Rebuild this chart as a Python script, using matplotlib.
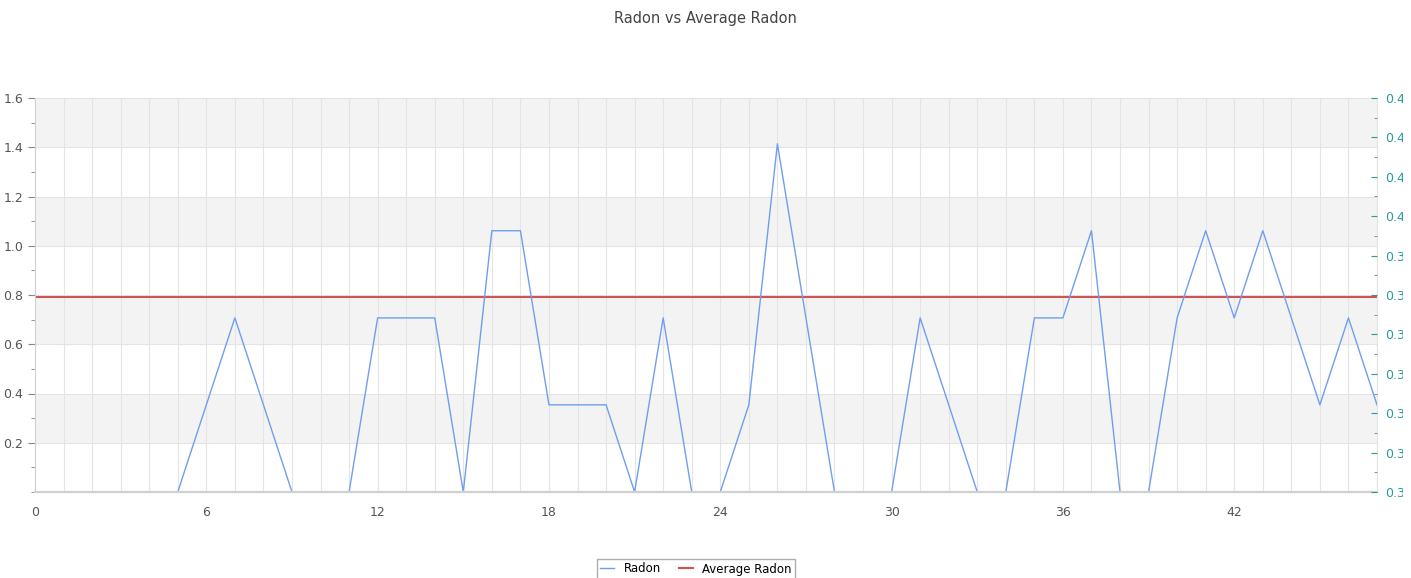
import numpy as np
import matplotlib.pyplot as plt
from matplotlib.ticker import MultipleLocator, FixedLocator
from matplotlib.transforms import Bbox, TransformedBbox

# sample index and radon readings
sample = list(range(0, 48))
radon = [0, 0, 0, 0, 0, 0, 0.354, 0.707, 0.354, 0, 0, 0,
         0.707, 0.707, 0.707, 0, 1.061, 1.061, 0.354, 0.354, 0.354, 0,
         0.707, 0, 0, 0.354, 1.414, 0.707, 0, 0, 0, 0.707, 0.354, 0, 0,
         0.707, 0.707, 1.061, 0, 0, 0.707, 1.061, 0.707, 1.061, 0.707,
         0.354, 0.707, 0.354]
avg_radon = 0.79

x_ticks = [0, 6, 12, 18, 24, 30, 36, 42]
y_ticks = [0.2, 0.4, 0.6, 0.8, 1.0, 1.2, 1.4, 1.6]
right_ticks = [0.33, 0.34, 0.35, 0.36, 0.37, 0.38, 0.39, 0.40, 0.41, 0.42, 0.43]

fig = plt.figure(figsize=(14.11, 5.78), dpi=100)
ax = fig.add_axes([35 / 1411, 1 - 492 / 578, (1377 - 35) / 1411, (492 - 98) / 578])

ax.set_xlim(0, 47)
ax.set_ylim(0, 1.6)

# alternating bands
for i in range(8):
    lo = i * 0.2
    if i % 2 == 1:
        ax.axhspan(lo, lo + 0.2, color="#f3f3f3", zorder=0, lw=0)
for y in y_ticks[:-1]:
    ax.axhline(y, color="#e4e4e4", lw=0.8, zorder=0.5)
for x in sample:
    ax.axvline(x, color="#e4e4e4", lw=0.8, zorder=0.5)

l1, = ax.plot(sample, radon, color="#6f9ef0", lw=1.0, label="Radon", zorder=3)
l2 = ax.axhline(avg_radon, color="#d05353", lw=1.5, label="Average Radon", zorder=2)

ax.set_xticks(x_ticks)
ax.set_yticks(y_ticks)
ax.yaxis.set_minor_locator(MultipleLocator(0.1))
ax.tick_params(axis="x", length=0, pad=10, labelsize=9, labelcolor="#555555")
ax.tick_params(axis="y", which="major", length=5, color="#888888", labelsize=9, labelcolor="#555555")
ax.tick_params(axis="y", which="minor", length=3, color="#888888")
for s in ["left", "bottom"]:
    ax.spines[s].set_color("#d0d0d0")
ax.spines["bottom"].set_linewidth(1.6)
ax.spines["bottom"].set_zorder(5)
for s in ["top", "right"]:
    ax.spines[s].set_color("#e4e4e4")

ax2 = ax.twinx()
ax2.set_ylim(0.33, 0.43)
ax2.yaxis.set_major_locator(FixedLocator(right_ticks))
ax2.yaxis.set_minor_locator(MultipleLocator(0.005))
ax2.set_yticklabels(["%.2f" % v for v in right_ticks])
ax2.tick_params(axis="y", which="major", direction="in", length=4, pad=6,
                color="#2a9a9a", labelsize=9, labelcolor="#2a9a9a")
ax2.tick_params(axis="y", which="minor", direction="in", length=2, color="#2a9a9a")
for s in ax2.spines.values():
    s.set_visible(False)

# right labels are cut off by the chart panel, like in the original
clip = TransformedBbox(Bbox([[0, 0], [1403 / 1411, 1]]), fig.transFigure)
for lab in ax2.get_yticklabels():
    lab.set_clip_box(clip)
    lab.set_clip_on(True)

fig.suptitle("Radon vs Average Radon", y=1 - 18 / 578, va="center", fontsize=10.5, color="#444444")
fig.legend(handles=[l1, l2], loc="center", bbox_to_anchor=(696 / 1411, 1 - 569 / 578), ncol=2,
           fontsize=8.5, frameon=True, fancybox=False, edgecolor="#999999",
           handlelength=1.2, columnspacing=1.5, borderpad=0.3)

fig.savefig("out.png", dpi=100)
